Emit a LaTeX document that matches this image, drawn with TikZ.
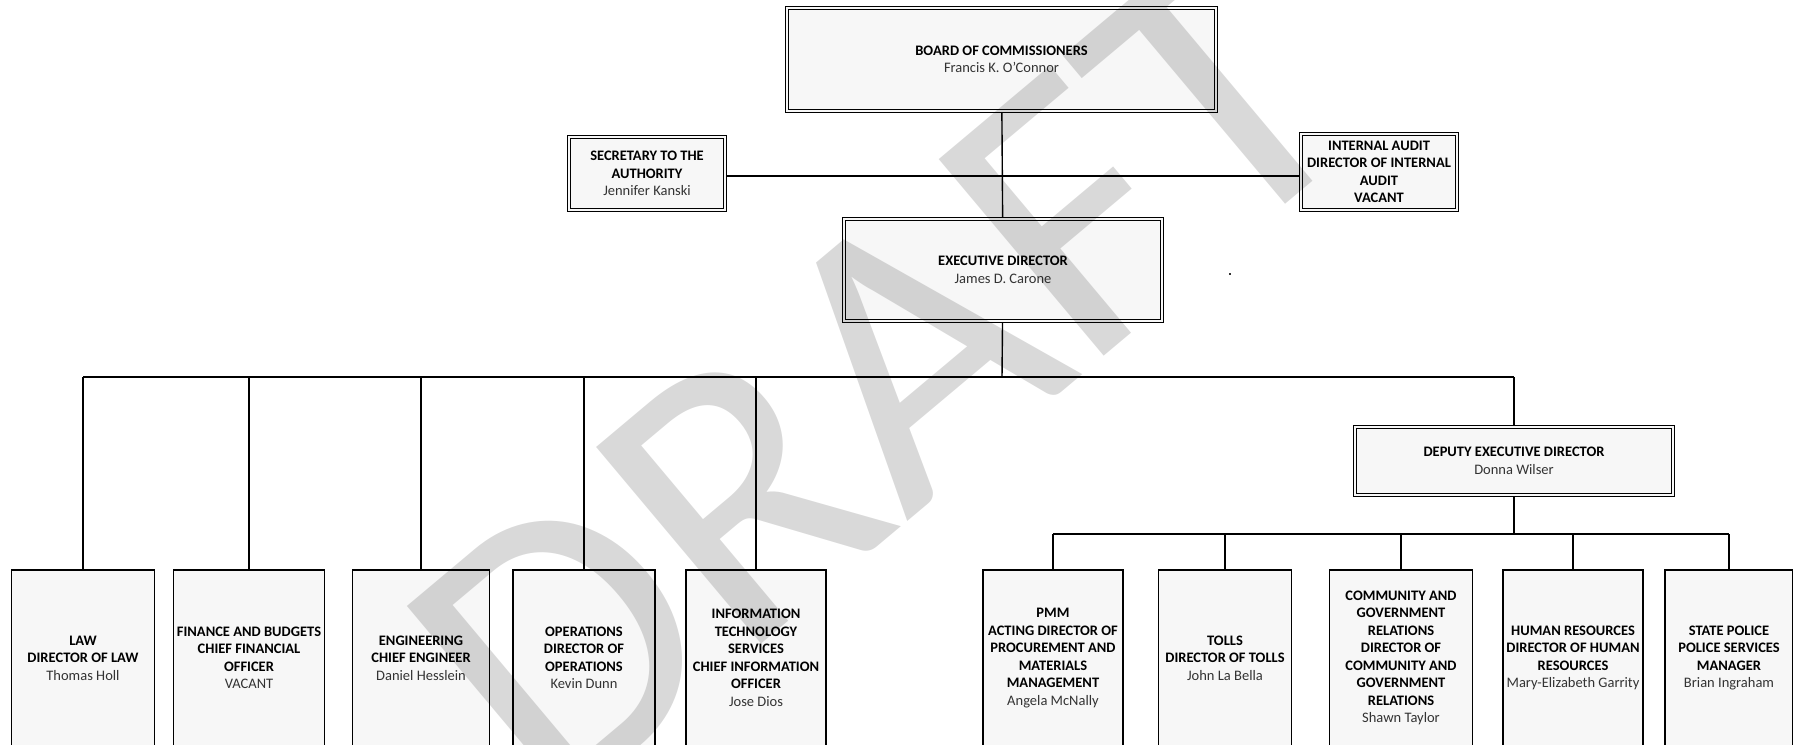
\documentclass[tikz,border=0pt]{standalone}
\usepackage{fontspec}
\setmainfont{Carlito}
\usetikzlibrary{positioning}

\newcommand{\incumbent}[1]{{\mdseries\color{black!80}#1}}

\begin{document}
\begin{tikzpicture}[
  x=1pt, y=-1pt,
  font=\fontsize{14.5}{17.5}\selectfont\bfseries,
  topbox/.style={
    rectangle, draw=black, line width=1.2pt, double=gray!6,
    double distance=1.3pt, fill=gray!6, outer sep=1.85pt,
    align=center, inner sep=2pt,
  },
  unitbox/.style={
    rectangle, draw=black, line width=1.5pt, fill=gray!6,
    minimum height=176pt, outer sep=0.75pt,
    align=center, inner sep=1pt,
  },
  link/.style={draw=black, line width=1.4pt},
  draftmark/.style={rotate=40, text=black!15, inner sep=0pt,
    font=\fontsize{400}{400}\selectfont\mdseries},
  speck/.style={rectangle, fill=black!80, inner sep=0pt, minimum size=2.5pt},
]
\useasboundingbox (0,0) rectangle (1793,744);
\clip (0,0) rectangle (1793,744);

\node[topbox, minimum width=429pt, minimum height=103pt] (board) at (1001.5,59.5)
  {BOARD OF COMMISSIONERS\\\incumbent{Francis K. O’Connor}};
\node[topbox, minimum width=156pt, minimum height=73pt] (sec) at (647,173.5)
  {SECRETARY TO THE\\AUTHORITY\\\incumbent{Jennifer Kanski}};
\node[topbox, minimum width=156pt, minimum height=76pt] (audit) at (1379,172)
  {INTERNAL AUDIT\\DIRECTOR OF INTERNAL\\AUDIT\\VACANT};
\node[topbox, minimum width=318pt, minimum height=102pt] (exec) at (1003,270)
  {EXECUTIVE DIRECTOR\\\incumbent{James D. Carone}};
\node[topbox, minimum width=318pt, minimum height=68pt] (deputy) at (1514,461)
  {DEPUTY EXECUTIVE DIRECTOR\\\incumbent{Donna Wilser}};

\node[speck] (dot) at (1230,274) {};

\node[unitbox, minimum width=143pt] (law) at (83,658)
  {LAW\\DIRECTOR OF LAW\\\incumbent{Thomas Holl}};
\node[unitbox, minimum width=151pt] (fin) at (249,658)
  {FINANCE AND BUDGETS\\CHIEF FINANCIAL\\OFFICER\\\incumbent{VACANT}};
\node[unitbox, minimum width=137pt] (eng) at (421,658)
  {ENGINEERING\\CHIEF ENGINEER\\\incumbent{Daniel Hesslein}};
\node[unitbox, minimum width=142pt] (ops) at (584,658)
  {OPERATIONS\\DIRECTOR OF\\OPERATIONS\\\incumbent{Kevin Dunn}};
\node[unitbox, minimum width=140pt] (its) at (756,658)
  {INFORMATION\\TECHNOLOGY\\SERVICES\\CHIEF INFORMATION\\OFFICER\\\incumbent{Jose Dios}};

\node[unitbox, minimum width=140pt] (pmm) at (1053,658)
  {PMM\\ACTING DIRECTOR OF\\PROCUREMENT AND\\MATERIALS\\MANAGEMENT\\\incumbent{Angela McNally}};
\node[unitbox, minimum width=133pt] (tolls) at (1225,658)
  {TOLLS\\DIRECTOR OF TOLLS\\\incumbent{John La Bella}};
\node[unitbox, minimum width=143pt] (cgr) at (1401,658)
  {COMMUNITY AND\\GOVERNMENT\\RELATIONS\\DIRECTOR OF\\COMMUNITY AND\\GOVERNMENT\\RELATIONS\\\incumbent{Shawn Taylor}};
\node[unitbox, minimum width=140pt] (hr) at (1573,658)
  {HUMAN RESOURCES\\DIRECTOR OF HUMAN\\RESOURCES\\\incumbent{Mary-Elizabeth Garrity}};
\node[unitbox, minimum width=128pt] (police) at (1729,658)
  {STATE POLICE\\POLICE SERVICES\\MANAGER\\\incumbent{Brian Ingraham}};

\coordinate (staff) at (1002,176);
\coordinate (bus) at (1002,377);
\coordinate (subbus) at (1514,534);

\draw[link] (board) -- (exec);
\draw[link] (sec.east |- staff) -- (audit.west |- staff);
\draw[link] (exec) -- (bus);
\draw[link] (law.north |- bus) -- (deputy.north |- bus);
\foreach \unit in {law,fin,eng,ops,its,deputy}
  \draw[link] (\unit.north |- bus) -- (\unit.north);
\draw[link] (deputy) -- (subbus);
\draw[link] (pmm.north |- subbus) -- (police.north |- subbus);
\foreach \unit in {pmm,tolls,cgr,hr,police}
  \draw[link] (\unit.north |- subbus) -- (\unit.north);

\begin{scope}[blend mode=multiply]
  \node[draftmark] (draft) at (880,377) {DRAFT};
\end{scope}
\end{tikzpicture}
\end{document}
